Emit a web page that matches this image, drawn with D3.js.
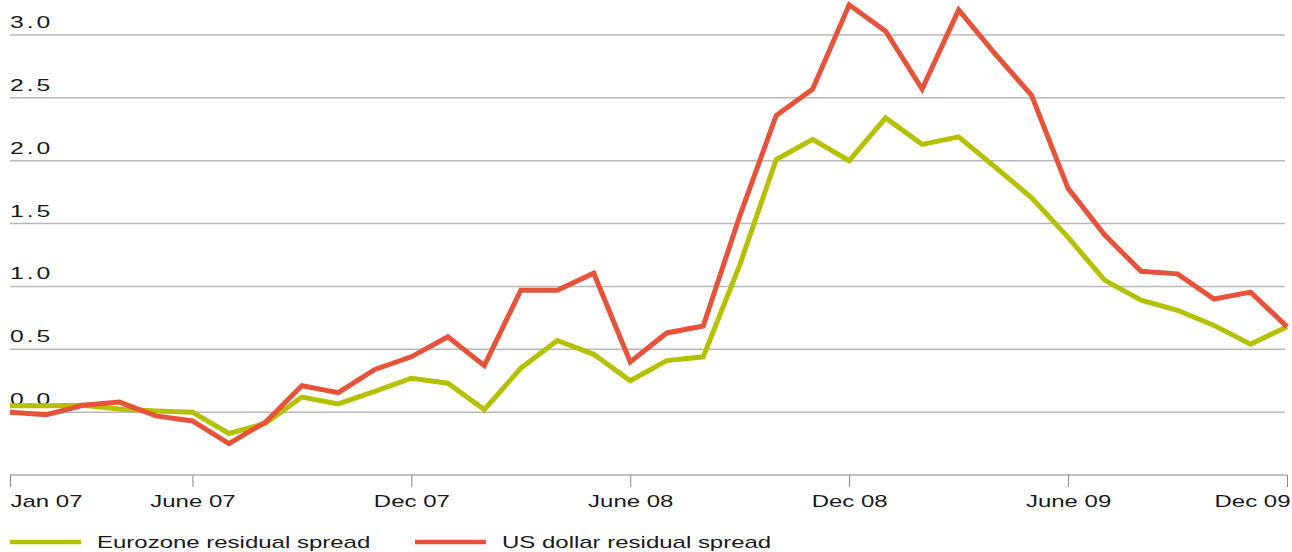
<!DOCTYPE html>
<html>
<head>
<meta charset="UTF-8"/>
<title>Residual spreads</title>
<script src="https://d3js.org/d3.v7.min.js"></script>
<style>
body { margin: 0; background: #fff; }
text { font-family: "Liberation Sans", Arial, sans-serif; fill: #1a1a1a; }
</style>
</head>
<body>
<div id="chart"></div>
<script>
// monthly, Jan 07 .. Dec 09
var months = ["Jan 07","Feb 07","Mar 07","Apr 07","May 07","June 07","Jul 07","Aug 07","Sep 07","Oct 07","Nov 07","Dec 07",
              "Jan 08","Feb 08","Mar 08","Apr 08","May 08","June 08","Jul 08","Aug 08","Sep 08","Oct 08","Nov 08","Dec 08",
              "Jan 09","Feb 09","Mar 09","Apr 09","May 09","June 09","Jul 09","Aug 09","Sep 09","Oct 09","Nov 09","Dec 09"];

var eurozone = [0.05, 0.05, 0.055, 0.025, 0.01, 0.0, -0.17, -0.09, 0.12, 0.065, 0.165, 0.27,
                0.23, 0.02, 0.35, 0.57, 0.46, 0.25, 0.41, 0.44, 1.17, 2.01, 2.17, 2.0,
                2.34, 2.13, 2.19, 1.95, 1.705, 1.39, 1.05, 0.89, 0.81, 0.69, 0.54, 0.68];

var usdollar = [0.0, -0.02, 0.055, 0.08, -0.03, -0.07, -0.25, -0.08, 0.21, 0.155, 0.34, 0.44,
                0.6, 0.37, 0.97, 0.97, 1.105, 0.4, 0.63, 0.685, 1.56, 2.36, 2.57, 3.24,
                3.03, 2.57, 3.2, 2.85, 2.52, 1.78, 1.41, 1.12, 1.10, 0.9, 0.955, 0.68];

var yTicks = [0.0, 0.5, 1.0, 1.5, 2.0, 2.5, 3.0];
var xTickIdx = [0, 5, 11, 17, 23, 29, 35];

var seriesNames = ["Eurozone residual spread", "US dollar residual spread"];
var seriesColors = ["#b4c000", "#e6533a"];

var W = 1292, H = 552;
var svg = d3.select("#chart").append("svg")
    .attr("width", W)
    .attr("height", H);

var x = d3.scaleLinear().domain([0, months.length - 1]).range([10, 1287]);
var y = d3.scaleLinear().domain([-0.5, 3.0]).range([475, 35]);

// gridlines
svg.selectAll(".grid").data(yTicks).enter().append("line")
    .attr("x1", 10).attr("x2", 1285)
    .attr("y1", d => y(d)).attr("y2", d => y(d))
    .attr("stroke", "#b8b8b8")
    .attr("stroke-width", 1.5);

// y labels, sitting above their lines
svg.selectAll(".ylab").data(yTicks).enter().append("text")
    .attr("transform", d => "translate(10," + (y(d) - 7) + ") scale(1.5,1)")
    .attr("font-size", 16.5)
    .attr("letter-spacing", 2)
    .text(d => d.toFixed(1));

// bottom axis
var xAxis = d3.axisBottom(x)
    .tickValues(xTickIdx)
    .tickSize(12)
    .tickFormat(i => months[i]);

var gx = svg.append("g")
    .attr("transform", "translate(0," + y(-0.5) + ")")
    .call(xAxis);
gx.select(".domain").attr("stroke", "#c4c4c4").attr("stroke-width", 2)
    .attr("d", "M10,0H1287");
gx.selectAll(".tick line").attr("stroke", "#888").attr("stroke-width", 1);
gx.selectAll(".tick text")
    .attr("y", 0).attr("dy", 0)
    .attr("font-size", 16)
    .attr("font-family", "Liberation Sans, Arial, sans-serif")
    .attr("fill", "#1a1a1a")
    .attr("text-anchor", (d, i) => i === 0 ? "start" : (i === xTickIdx.length - 1 ? "end" : "middle"))
    .attr("transform", (d, i) => "translate(" + (i === xTickIdx.length - 1 ? 3 : 0) + ",32) scale(1.5,1)");

// lines
var line = d3.line()
    .x((d, i) => x(i))
    .y(d => y(d));

[eurozone, usdollar].forEach(function (s, k) {
    svg.append("path")
        .datum(s)
        .attr("d", line)
        .attr("fill", "none")
        .attr("stroke", seriesColors[k])
        .attr("stroke-width", 5)
        .attr("stroke-linejoin", "miter");
});

// legend
var legX = [10, 415];
seriesNames.forEach(function (name, k) {
    svg.append("line")
        .attr("x1", legX[k]).attr("x2", legX[k] + 71)
        .attr("y1", 542).attr("y2", 542)
        .attr("stroke", seriesColors[k])
        .attr("stroke-width", 4.5);
    svg.append("text")
        .attr("transform", "translate(" + (legX[k] + 87) + ",548) scale(1.5,1)")
        .attr("font-size", 16)
        .text(name);
});
</script>
</body>
</html>
